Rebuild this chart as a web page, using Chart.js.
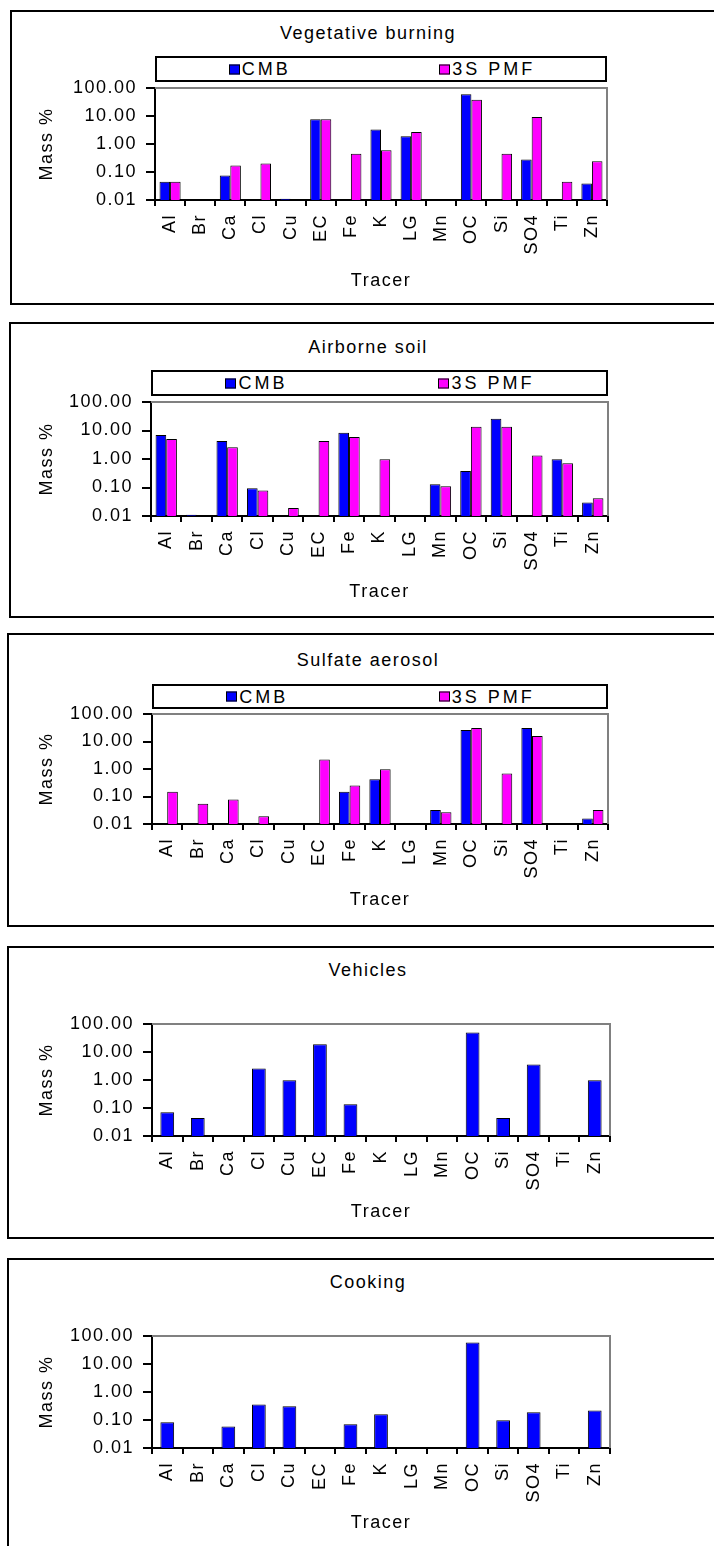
<!DOCTYPE html>
<html>
<head>
<meta charset="utf-8">
<title>Tracer mass fractions by source</title>
<script src="https://cdn.jsdelivr.net/npm/chart.js@4.4.1/dist/chart.umd.min.js"></script>
<style>
  body { margin: 0; width: 714px; height: 1546px; background: #fff; overflow: hidden; position: relative;
         font-family: "Liberation Sans", Arial, sans-serif; }
  .panel { position: absolute; left: 0; width: 714px; }
  .panel canvas { position: absolute; left: 0; top: 0; }
  .frame { position: absolute; top: 0; border: 2px solid #000; box-sizing: border-box; }
  .ptitle { position: absolute; left: 0; width: 736px; text-align: center; font-size: 18px; line-height: 22px;
            letter-spacing: 1.5px; color: #000; }
  .legend { position: absolute; border: 2px solid #000; box-sizing: border-box; background: #fff;
            font-size: 18px; letter-spacing: 3px; color: #000; }
  .legend span.item { position: absolute; top: 50%; transform: translateY(-50%); white-space: nowrap;
                      display: flex; align-items: center; }
  .legend i { display: inline-block; width: 9px; height: 8px; border: 1px solid #000; margin-right: 2px; }
</style>
</head>
<body>
<script>
const tracers = ["Al", "Br", "Ca", "Cl", "Cu", "EC", "Fe", "K", "LG", "Mn", "OC", "Si", "SO4", "Ti", "Zn"];
const massTicks = [0.01, 0.1, 1, 10, 100];

// mass % of each tracer in the source profiles (null = not in profile)
const vegCMB  = [0.045, null, 0.075, null, 0.011, 7.7, null, 3.3, 1.9, null, 60, null, 0.28, null, 0.039];
const vegPMF  = [0.045, null, 0.17, 0.2, null, 7.7, 0.45, 0.6, 2.7, null, 38, 0.45, 9.2, 0.045, 0.24];
const soilCMB = [7.0, 0.011, 4.3, 0.095, null, null, 8.3, null, null, 0.13, 0.38, 26, null, 0.98, 0.030];
const soilPMF = [5.0, null, 2.6, 0.078, 0.019, 4.3, 5.9, 0.98, null, 0.11, 13.5, 13.5, 1.33, 0.71, 0.042];
const sulfCMB = [null, null, null, null, null, null, 0.15, 0.42, null, 0.032, 26, null, 31, null, 0.016];
const sulfPMF = [0.15, 0.055, 0.077, 0.019, null, 2.2, 0.25, 0.97, null, 0.027, 31, 0.69, 16, null, 0.032];
const vehCMB  = [0.07, 0.044, null, 2.6, 0.97, 19, 0.135, null, null, null, 50, 0.044, 3.6, null, 0.97];
const cookCMB = [0.083, null, 0.059, 0.36, 0.31, null, 0.07, 0.16, null, null, 59, 0.097, 0.19, null, 0.22];

const BLUE = "#0000ff";
const MAGENTA = "#ff00ff";
const FONT_SIZE = 18;

Chart.defaults.font.family = '"Liberation Sans", Arial, sans-serif';
Chart.defaults.font.size = FONT_SIZE;
Chart.defaults.color = "#000";

// the labels in these charts are set a little wide
const wideText = {
  id: "wideText",
  beforeUpdate(chart) { chart.ctx.letterSpacing = "1.5px"; },
  beforeDraw(chart) { chart.ctx.letterSpacing = "1.5px"; }
};

// gray border on the top and right of the plot area
const plotFrame = {
  id: "plotFrame",
  afterDraw(chart) {
    const { ctx, chartArea: a } = chart;
    ctx.save();
    ctx.strokeStyle = "#808080";
    ctx.lineWidth = 2;
    ctx.beginPath();
    ctx.moveTo(a.left, a.top);
    ctx.lineTo(a.right, a.top);
    ctx.lineTo(a.right, a.bottom);
    ctx.stroke();
    ctx.restore();
  }
};

// page layout of each panel (y values are page coordinates)
const panels = [
  { title: "Vegetative burning", top: 10, height: 295, frameLeft: 10, titleY: 33, plotTop: 88, plotBottom: 200,
    plotLeft: 155, plotRight: 607, tracerY: 281, legendTop: 56, legendHeight: 26,
    series: [{ name: "CMB", values: vegCMB, color: BLUE }, { name: "3S PMF", values: vegPMF, color: MAGENTA }] },
  { title: "Airborne soil", top: 322, height: 296, frameLeft: 9, titleY: 347, plotTop: 402, plotBottom: 516,
    plotLeft: 151, plotRight: 608, tracerY: 592, legendTop: 370, legendHeight: 26,
    series: [{ name: "CMB", values: soilCMB, color: BLUE }, { name: "3S PMF", values: soilPMF, color: MAGENTA }] },
  { title: "Sulfate aerosol", top: 633, height: 294, frameLeft: 7, titleY: 660, plotTop: 714, plotBottom: 824,
    plotLeft: 152, plotRight: 608, tracerY: 900, legendTop: 684, legendHeight: 25,
    series: [{ name: "CMB", values: sulfCMB, color: BLUE }, { name: "3S PMF", values: sulfPMF, color: MAGENTA }] },
  { title: "Vehicles", top: 946, height: 293, frameLeft: 7, titleY: 970, plotTop: 1024, plotBottom: 1136,
    plotLeft: 152, plotRight: 610, tracerY: 1212,
    series: [{ name: "CMB", values: vehCMB, color: BLUE }] },
  { title: "Cooking", top: 1258, height: 300, frameLeft: 7, titleY: 1282, plotTop: 1336, plotBottom: 1448,
    plotLeft: 152, plotRight: 610, tracerY: 1523,
    series: [{ name: "CMB", values: cookCMB, color: BLUE }] }
];

function drawPanel(p) {
  const wrap = document.createElement("div");
  wrap.className = "panel";
  wrap.style.top = p.top + "px";
  wrap.style.height = p.height + "px";

  const frame = document.createElement("div");
  frame.className = "frame";
  frame.style.left = p.frameLeft + "px";
  frame.style.width = "720px";
  frame.style.height = p.height + "px";
  wrap.appendChild(frame);

  const head = document.createElement("div");
  head.className = "ptitle";
  head.style.top = (p.titleY - p.top - 11) + "px";
  head.textContent = p.title;
  wrap.appendChild(head);

  const canvas = document.createElement("canvas");
  canvas.width = 714;
  canvas.height = p.height;
  wrap.appendChild(canvas);
  document.body.appendChild(wrap);

  const lh = FONT_SIZE * 1.2;
  const xAxisHeight = p.height - (p.plotBottom - p.top);
  const pair = p.series.length > 1;

  const datasets = p.series.map(s => ({
    label: s.name,
    data: s.values,
    backgroundColor: s.color,
    borderColor: "#000",
    borderWidth: 1,
    categoryPercentage: pair ? 0.7 : 0.45,
    barPercentage: 1
  }));

  const chart = new Chart(canvas, {
    type: "bar",
    data: { labels: tracers, datasets },
    options: {
      responsive: false,
      animation: false,
      devicePixelRatio: 1,
      layout: { padding: { left: 0, right: 714 - p.plotRight, top: p.plotTop - p.top, bottom: 0 } },
      plugins: {
        legend: { display: false },
        tooltip: { enabled: false },
        title: { display: false }
      },
      scales: {
        x: {
          afterFit(scale) { scale.height = xAxisHeight; },
          border: { display: true, color: "#000", width: 2 },
          grid: { display: true, drawOnChartArea: false, drawTicks: true, tickLength: 6, color: "#000", lineWidth: 2, offset: true },
          ticks: { minRotation: 90, maxRotation: 90, autoSkip: false, padding: 8 },
          title: {
            display: true,
            text: "Tracer",
            padding: { top: 0, bottom: p.height - (p.tracerY - p.top) - lh / 2 }
          }
        },
        y: {
          type: "logarithmic",
          min: massTicks[0],
          max: massTicks[massTicks.length - 1],
          afterFit(scale) { scale.width = p.plotLeft; },
          afterBuildTicks(scale) { scale.ticks = massTicks.map(v => ({ value: v })); },
          border: { display: true, color: "#000", width: 2 },
          grid: { display: true, drawOnChartArea: false, drawTicks: true, tickLength: 9, color: "#000", lineWidth: 2 },
          ticks: { padding: 9, callback: v => Number(v).toFixed(2) },
          title: {
            display: true,
            text: "Mass %",
            padding: { top: 36, bottom: 0 }
          }
        }
      }
    },
    plugins: [wideText, plotFrame]
  });

  // boxed legend spanning the plot width, built from the datasets
  if (pair) {
    const lg = document.createElement("div");
    lg.className = "legend";
    lg.style.left = chart.chartArea.left + "px";
    lg.style.width = (chart.chartArea.right - chart.chartArea.left) + "px";
    lg.style.top = (p.legendTop - p.top) + "px";
    lg.style.height = p.legendHeight + "px";
    const slots = [0.16, 0.63];
    chart.data.datasets.forEach((ds, i) => {
      const item = document.createElement("span");
      item.className = "item";
      item.style.left = (slots[i] * 100) + "%";
      const sw = document.createElement("i");
      sw.style.background = ds.backgroundColor;
      item.appendChild(sw);
      item.appendChild(document.createTextNode(ds.label));
      lg.appendChild(item);
    });
    wrap.appendChild(lg);
  }
}

panels.forEach(drawPanel);
</script>
</body>
</html>
